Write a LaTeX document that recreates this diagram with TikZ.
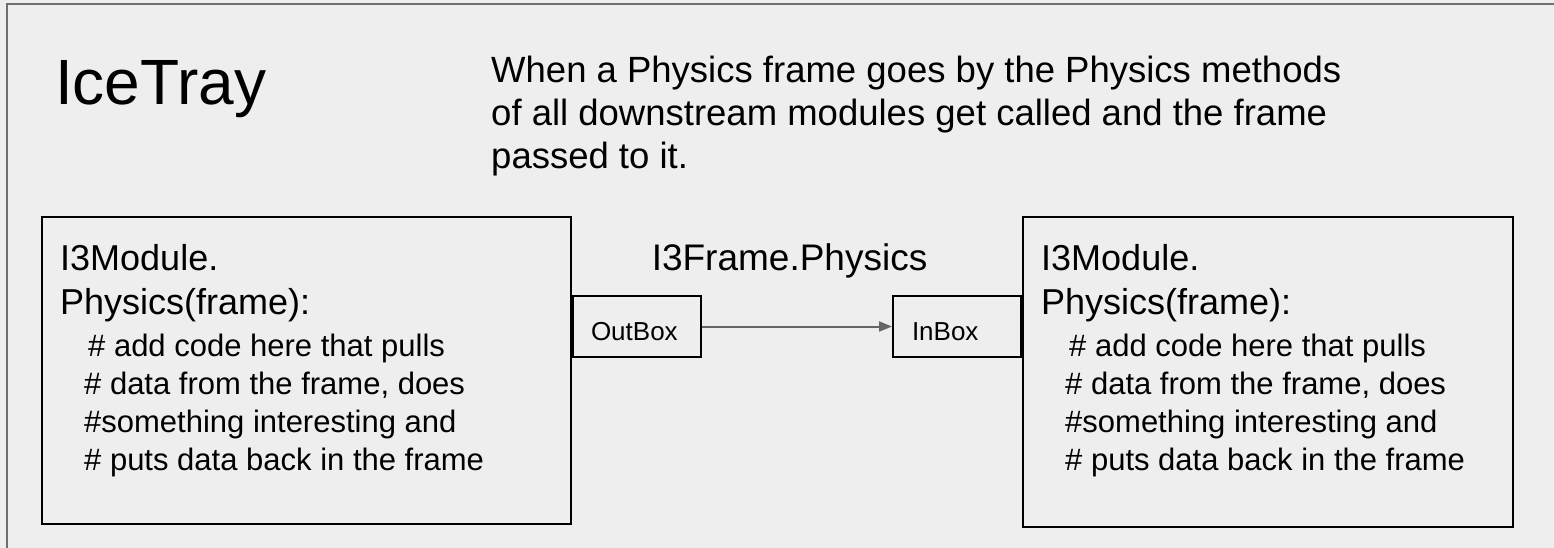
\documentclass[tikz,border=0pt]{standalone}
\usepackage{fontspec}
\setmainfont{Liberation Sans}
\usetikzlibrary{arrows.meta}
\definecolor{slidebg}{HTML}{EEEEEE}
\definecolor{slideedge}{HTML}{6E6E6E}
\definecolor{flowgray}{HTML}{666666}

\begin{document}
\begin{tikzpicture}[x=1pt,y=-1pt,inner sep=0pt,
    >={Triangle[length=13pt,width=10pt]},
    module/.style={draw,line width=2pt},
    port/.style={draw,line width=2pt,minimum width=128pt,minimum height=61pt,
      text width=92pt,inner xsep=18pt,align=left,text height=27pt,text depth=0pt,
      font=\fontsize{26}{30}\selectfont},
    head/.style={anchor=base west,font=\fontsize{36}{44}\selectfont},
    comment/.style={anchor=base west,font=\fontsize{31}{38}\selectfont},
    desc/.style={anchor=base west,font=\fontsize{36.5}{43}\selectfont}]
  \useasboundingbox (0,0) rectangle (1554,548);
  \fill[slidebg] (0,0) rectangle (1554,548);
  \draw[slideedge,line width=2pt] (1554,4) -| (7,548);

  \node[anchor=base west,font=\fontsize{64}{70}\selectfont] (title) at (55,105) {IceTray};
  \foreach \t [count=\i] in {When a Physics frame goes by the Physics methods,of all downstream modules get called and the frame,passed to it.}
    \node[desc] (desc\i) at (491,40+43*\i) {\t};

  % the two modules
  \node[module,minimum width=529pt,minimum height=307pt] (lmod) at (306.5,370.5) {};
  \node[module,minimum width=490pt,minimum height=310pt] (rmod) at (1268,372) {};
  \foreach \m in {lmod,rmod} {
    \node[head] (\m-a) at ([shift={(19,54)}]\m.north west) {I3Module.};
    \node[head] (\m-b) at ([shift={(19,98)}]\m.north west) {Physics(frame):};
    \foreach \t/\dx [count=\i] in {{\# add code here that pulls}/47,{\# data from the frame, does}/43,{\#something interesting and}/43,{\# puts data back in the frame}/43}
      \node[comment] (\m-c\i) at ([shift={(\dx,102+38*\i)}]\m.north west) {\t};
  }

  % ports and the frame passing between them
  \node[port,anchor=west] (out) at ([yshift=44pt]lmod.east) {OutBox};
  \node[port,anchor=east,inner xsep=19pt,text width=90pt] (in) at ([yshift=45.5pt]rmod.west) {InBox};
  \draw[->,flowgray,line width=2pt] (out) -- (in);
  \node[anchor=base,font=\fontsize{37}{44}\selectfont] (framelbl) at (789.5,270) {I3Frame.Physics};
\end{tikzpicture}
\end{document}
